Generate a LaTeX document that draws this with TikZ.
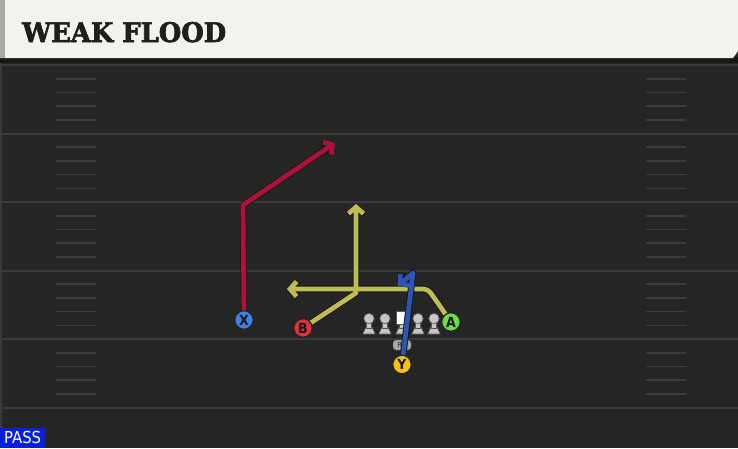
\documentclass[tikz,border=0pt]{standalone}
\usepackage{fontspec}
\usepackage{graphicx}
\setmainfont{DejaVu Sans}
\newfontfamily\titlefont[FakeBold=2.5]{DejaVu Serif}
\newfontfamily\condfont{DejaVu Sans Condensed}
\usetikzlibrary{arrows.meta}
\definecolor{fieldbg}{HTML}{252525}
\definecolor{yardc}{HTML}{3A3A3A}
\definecolor{hashc}{HTML}{3C3C3C}
\definecolor{titlebg}{HTML}{F4F2EC}
\definecolor{titlestrip}{HTML}{A9A9A9}
\definecolor{titletext}{HTML}{1E1E1E}
\definecolor{shadowc}{HTML}{161616}
\definecolor{redroute}{HTML}{AD123D}
\definecolor{yelroute}{HTML}{BFBC55}
\definecolor{bluroute}{HTML}{2C56B2}
\definecolor{xfill}{HTML}{3F80E2}
\definecolor{bfill}{HTML}{E2313C}
\definecolor{yfill}{HTML}{F2C21A}
\definecolor{afill}{HTML}{6CDA4A}
\definecolor{passblue}{HTML}{0A1EDC}
\definecolor{linec}{HTML}{C6C6C6}
\definecolor{lineedge}{HTML}{5A5A5A}
\definecolor{rbfill}{HTML}{A6A6A6}
\pgfdeclarelayer{bg}
\pgfdeclarelayer{mid}
\pgfsetlayers{bg,mid,main}
\tikzset{
  yardline/.style={draw=yardc, line width=2pt},
  hashmark/.style={draw=hashc, line width=1.6pt},
  player/.style={circle, minimum size=18.5pt, inner sep=0pt, draw=black!85, line width=1.2pt,
    text=black!90, font=\condfont\bfseries\fontsize{14}{14}\selectfont},
  routeout/.style={draw=black!90, line width=6.6pt, line join=round, line cap=round,
    -{Straight Barb[length=6.5pt,width=15pt]}},
  route/.style={line width=4.7pt, line join=round, line cap=round,
    -{Straight Barb[length=6.5pt,width=15pt]}},
  rbbox/.style={draw=lineedge, fill=rbfill, rounded corners=3pt, minimum width=18pt,
    minimum height=10pt, inner sep=0pt, text=black!85, font=\condfont\fontsize{7}{7}\selectfont},
  lineman/.pic={
    \fill[linec, draw=lineedge, line width=0.6pt] (-3,8) -- (3,8) -- (6.2,15) -- (-6.2,15) -- cycle;
    \fill[linec, draw=lineedge, line width=0.6pt] (-2.5,2) rectangle (2.5,9);
    \fill[linec, draw=lineedge, line width=0.6pt] (0,-0.5) circle (5.2);
  },
  centerman/.pic={
    \fill[linec, draw=lineedge, line width=0.6pt] (-3,8) -- (3,8) -- (6.2,15) -- (-6.2,15) -- cycle;
    \fill[linec, draw=lineedge, line width=0.6pt] (-2.5,2) rectangle (2.5,9);
    \fill[white, draw=lineedge, line width=0.6pt] (-6,-7.5) rectangle (6,5);
  }
}
\begin{document}
\begin{tikzpicture}[x=1pt,y=-1pt]
\useasboundingbox (0,0) rectangle (738,448);
\begin{pgfonlayer}{bg}
\fill[fieldbg] (0,0) rectangle (738,448);
\draw[yardc, line width=2pt] (1,60) -- (1,448);
\foreach \y in {65,133.5,202,270.5,339,407.5} \draw[yardline] (0,\y) -- (738,\y);
\foreach \b in {65,133.5,202,270.5,339} {
  \foreach \k in {1,2,3,4} {
    \draw[hashmark] (56,\b+\k*13.7) -- (96,\b+\k*13.7);
    \draw[hashmark] (646,\b+\k*13.7) -- (686,\b+\k*13.7);
  }
}
\fill[shadowc] (0,57) rectangle (738,63);
\fill[titlebg] (0,0) -- (738,0) -- (738,51) -- (733,58) -- (0,58) -- cycle;
\fill[titlestrip] (0,0) rectangle (5,58);
\pic at (369,319) {lineman};
\pic at (385,319) {lineman};
\pic at (402,319) {centerman};
\pic at (418,319) {lineman};
\pic at (434,319) {lineman};
\end{pgfonlayer}

\node[anchor=base west, inner sep=0pt, text=titletext] (title) at (22,42)
  {\resizebox{204pt}{20pt}{\titlefont\bfseries WEAK FLOOD}};
\node[anchor=south west, fill=passblue, text=white, minimum width=45pt, minimum height=20pt,
  inner sep=0pt, font=\condfont\fontsize{16.5}{16.5}\selectfont] (pass) at (0,448) {PASS};

\node[player, fill=xfill] (X) at (244,320) {X};
\node[player, fill=bfill] (B) at (303,328) {B};
\node[player, fill=yfill] (Y) at (402,364.5) {Y};
\node[player, fill=afill] (A) at (451,322) {A};

\begin{pgfonlayer}{bg}
\node[rbbox] (RB) at (402,345) {RB};
\draw[lineedge, line width=1.2pt] (RB) -- (Y);
\end{pgfonlayer}

\coordinate (xc) at (243,205);
\coordinate (xe) at (335,143);
\coordinate (bc) at (356,293);
\coordinate (be) at (356,204);
\coordinate (ac) at (428,289);
\coordinate (ae) at (287,289);
\coordinate (yc) at (413,273);
\coordinate (ye) at (398,286);

\begin{pgfonlayer}{mid}
\draw[routeout] (X) -- (xc) -- (xe);
\draw[route, redroute] (X) -- (xc) -- (xe);
\draw[routeout] (B) -- (bc) -- (be);
\draw[routeout, rounded corners=5pt] (A) -- (ac) -- (ae);
\draw[route, yelroute] (B) -- (bc) -- (be);
\draw[route, yelroute, rounded corners=5pt] (A) -- (ac) -- (ae);
\draw[routeout] (Y) -- (yc) -- (ye);
\draw[route, bluroute] (Y) -- (yc) -- (ye);
\end{pgfonlayer}
\end{tikzpicture}
\end{document}
